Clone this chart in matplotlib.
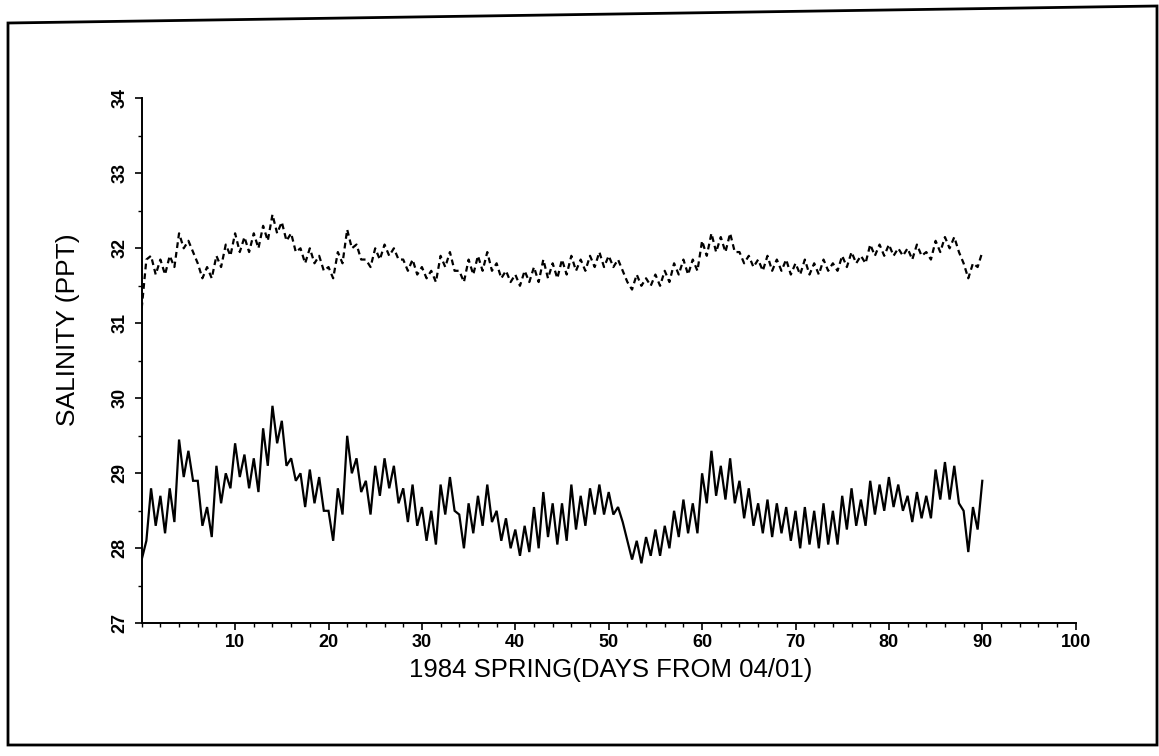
import numpy as np
import matplotlib
matplotlib.use("Agg")
import matplotlib.pyplot as plt
from matplotlib.patches import Polygon
from matplotlib.ticker import MultipleLocator

# sample times (days from 04/01), two readings per day (high / low)
days = np.arange(0, 90.5, 0.5)

# lower series (solid line), salinity in ppt
lower = [
    27.85, 28.10, 28.80, 28.30, 28.70, 28.20, 28.80, 28.35, 29.45, 28.95,
    29.30, 28.90, 28.90, 28.30, 28.55, 28.15, 29.10, 28.60, 29.00, 28.80,
    29.40, 28.95, 29.25, 28.80, 29.20, 28.75, 29.60, 29.10, 29.90, 29.40,
    29.70, 29.10, 29.20, 28.90, 29.00, 28.55, 29.05, 28.60, 28.95, 28.50,
    28.50, 28.10, 28.80, 28.45, 29.50, 29.00, 29.20, 28.75, 28.90, 28.45,
    29.10, 28.70, 29.20, 28.80, 29.10, 28.60, 28.80, 28.35, 28.85, 28.30,
    28.55, 28.10, 28.50, 28.05, 28.85, 28.45, 28.95, 28.50, 28.45, 28.00,
    28.60, 28.20, 28.70, 28.30, 28.85, 28.35, 28.50, 28.10, 28.40, 28.00,
    28.25, 27.90, 28.30, 27.95, 28.55, 28.00, 28.75, 28.15, 28.60, 28.05,
    28.60, 28.10, 28.85, 28.25, 28.70, 28.30, 28.80, 28.45, 28.85, 28.45,
    28.75, 28.45, 28.55, 28.35, 28.10, 27.85, 28.10, 27.80, 28.15, 27.90,
    28.25, 27.90, 28.30, 28.00, 28.50, 28.15, 28.65, 28.20, 28.60, 28.20,
    29.00, 28.60, 29.30, 28.70, 29.10, 28.65, 29.20, 28.60, 28.90, 28.40,
    28.80, 28.30, 28.60, 28.20, 28.65, 28.15, 28.60, 28.20, 28.55, 28.10,
    28.50, 28.00, 28.55, 28.05, 28.50, 28.00, 28.60, 28.05, 28.50, 28.05,
    28.70, 28.25, 28.80, 28.30, 28.65, 28.30, 28.90, 28.45, 28.85, 28.50,
    28.95, 28.55, 28.85, 28.50, 28.70, 28.35, 28.75, 28.40, 28.70, 28.40,
    29.05, 28.65, 29.15, 28.65, 29.10, 28.60, 28.50, 27.95, 28.55, 28.25,
    28.90,
]

# upper series (dashed line), salinity in ppt
upper = [
    31.20, 31.85, 31.90, 31.65, 31.85, 31.65, 31.90, 31.75, 32.20, 32.00,
    32.10, 31.95, 31.80, 31.60, 31.75, 31.60, 31.90, 31.75, 32.05, 31.90,
    32.20, 31.95, 32.15, 31.95, 32.20, 32.00, 32.30, 32.10, 32.45, 32.20,
    32.35, 32.10, 32.20, 31.95, 32.00, 31.80, 32.00, 31.80, 31.90, 31.70,
    31.75, 31.60, 31.95, 31.80, 32.25, 32.00, 32.05, 31.85, 31.85, 31.75,
    32.00, 31.85, 32.05, 31.90, 32.00, 31.85, 31.85, 31.70, 31.85, 31.65,
    31.75, 31.60, 31.70, 31.55, 31.90, 31.75, 31.95, 31.70, 31.70, 31.55,
    31.85, 31.65, 31.90, 31.70, 31.95, 31.70, 31.80, 31.60, 31.70, 31.55,
    31.65, 31.50, 31.70, 31.55, 31.75, 31.55, 31.85, 31.60, 31.80, 31.60,
    31.85, 31.65, 31.90, 31.70, 31.85, 31.70, 31.90, 31.75, 31.95, 31.75,
    31.90, 31.75, 31.85, 31.70, 31.55, 31.45, 31.65, 31.50, 31.60, 31.50,
    31.65, 31.50, 31.70, 31.55, 31.80, 31.65, 31.85, 31.65, 31.85, 31.70,
    32.10, 31.90, 32.20, 31.95, 32.15, 31.95, 32.20, 31.95, 31.95, 31.80,
    31.90, 31.75, 31.85, 31.70, 31.90, 31.70, 31.85, 31.70, 31.85, 31.65,
    31.80, 31.65, 31.85, 31.65, 31.80, 31.65, 31.85, 31.70, 31.80, 31.70,
    31.90, 31.75, 31.95, 31.80, 31.90, 31.80, 32.05, 31.90, 32.05, 31.90,
    32.05, 31.90, 32.00, 31.90, 32.00, 31.85, 32.05, 31.90, 31.95, 31.85,
    32.10, 31.95, 32.15, 32.00, 32.15, 31.95, 31.80, 31.60, 31.80, 31.75,
    31.95,
]

x_ticks = [10, 20, 30, 40, 50, 60, 70, 80, 90, 100]
y_ticks = [27, 28, 29, 30, 31, 32, 33, 34]

FONT = "Liberation Sans"

W, H = 1159, 756
fig = plt.figure(figsize=(W / 100, H / 100), dpi=100)

# outer frame of the scanned page (top edge slightly tilted)
frame_px = [(8, 23), (1157, 6), (1157, 745), (8, 745)]
fig.patches.append(Polygon([(px / W, 1 - py / H) for px, py in frame_px],
                           closed=True, transform=fig.transFigure, fill=False,
                           edgecolor="black", linewidth=2.0))

ax = fig.add_axes([141.7 / W, 1 - 623.3 / H, (1075.7 - 141.7) / W, (623.3 - 98.3) / H])
ax.plot(days, lower, color="black", linewidth=1.6, solid_joinstyle="miter")
ax.plot(days, upper, color="black", linewidth=1.6, linestyle=(0, (2.6, 1.8)))

ax.set_xlim(0, 100)
ax.set_ylim(27, 34)
for s in ("top", "right"):
    ax.spines[s].set_visible(False)
for s in ("left", "bottom"):
    ax.spines[s].set_linewidth(1.4)

ax.set_xticks(x_ticks)
ax.set_xticklabels([str(t) for t in x_ticks], fontsize=13, family=FONT,
                   fontweight="bold")
ax.xaxis.set_minor_locator(MultipleLocator(2))
ax.set_yticks(y_ticks)
ax.set_yticklabels([str(t) for t in y_ticks], fontsize=13, family=FONT,
                   fontweight="bold", rotation=90, va="center")
ax.yaxis.set_minor_locator(MultipleLocator(0.5))
ax.tick_params(axis="both", which="major", direction="out", length=5, width=1.2)
ax.tick_params(axis="both", which="minor", direction="out", length=3, width=1.0)
ax.tick_params(axis="x", which="major", pad=2.6)
ax.tick_params(axis="y", which="major", pad=4.6)

fig.text(0.527, 1 - 670 / H, "1984 SPRING(DAYS FROM 04/01)", fontsize=18.5,
         family=FONT, ha="center", va="center")
fig.text(68 / W, 1 - 330 / H, "SALINITY (PPT)", fontsize=19, family=FONT,
         rotation=90, ha="center", va="center")

fig.savefig("out.png", dpi=100, facecolor="white")
